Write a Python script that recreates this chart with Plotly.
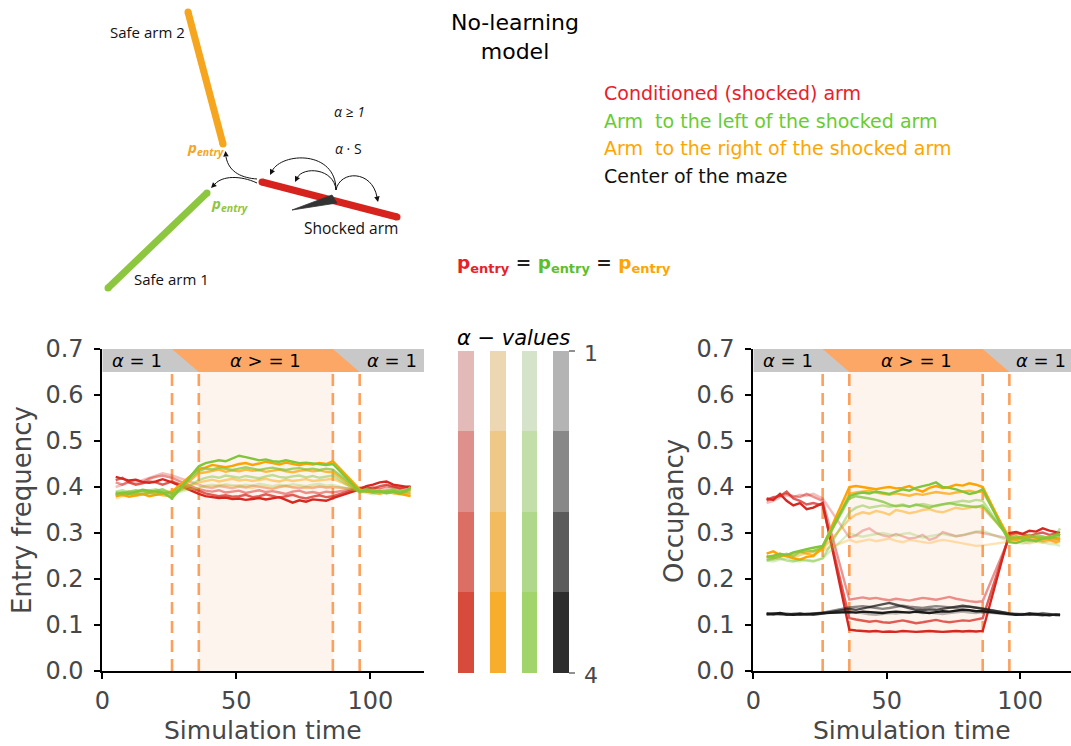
import plotly.graph_objects as go

W, H = 1071, 746

# ---------------------------------------------------------------- data
# simulation time shared by every curve (pre-phase | alpha phase | post-phase)
TIME = [5, 7.5, 10, 12.5, 15, 17.5, 20, 22.5, 26,
        36, 38.5, 41, 43.5, 46, 48.5, 51, 53.5, 56, 58.5,
        61, 63.5, 66, 68.5, 71, 73.5, 76, 78.5, 81, 83.5, 86,
        96, 98.5, 101, 103.5, 106, 108.5, 111, 113.5, 115]

ALPHA_VALUES = [1, 2, 3, 4]

# entry frequency, one list per alpha value (1 -> 4)
entry_red = [
    [0.400, 0.405, 0.410, 0.408, 0.415, 0.420, 0.425, 0.430, 0.425,
     0.405, 0.400, 0.398, 0.402, 0.400, 0.397, 0.401, 0.399, 0.403, 0.400,
     0.398, 0.396, 0.400, 0.402, 0.399, 0.397, 0.400, 0.398, 0.401, 0.399, 0.400,
     0.395, 0.392, 0.398, 0.394, 0.397, 0.400, 0.396, 0.393, 0.395],
    [0.410, 0.405, 0.412, 0.415, 0.410, 0.418, 0.422, 0.425, 0.420,
     0.395, 0.392, 0.390, 0.393, 0.388, 0.390, 0.392, 0.387, 0.390, 0.393,
     0.389, 0.391, 0.388, 0.385, 0.390, 0.392, 0.387, 0.389, 0.386, 0.390, 0.388,
     0.398, 0.395, 0.400, 0.397, 0.402, 0.399, 0.396, 0.400, 0.398],
    [0.415, 0.420, 0.410, 0.405, 0.408, 0.412, 0.410, 0.405, 0.412,
     0.390, 0.386, 0.383, 0.380, 0.382, 0.379, 0.380, 0.383, 0.378, 0.380,
     0.384, 0.381, 0.377, 0.380, 0.383, 0.378, 0.375, 0.379, 0.382, 0.378, 0.380,
     0.398, 0.400, 0.396, 0.402, 0.405, 0.401, 0.398, 0.400, 0.402],
    [0.422, 0.418, 0.414, 0.416, 0.411, 0.409, 0.412, 0.417, 0.410,
     0.385, 0.380, 0.378, 0.376, 0.377, 0.374, 0.375, 0.372, 0.374, 0.376,
     0.373, 0.375, 0.378, 0.372, 0.366, 0.371, 0.368, 0.373, 0.371, 0.370, 0.376,
     0.395, 0.402, 0.405, 0.410, 0.412, 0.405, 0.403, 0.401, 0.399],
]
entry_orange = [
    [0.375, 0.380, 0.385, 0.388, 0.384, 0.389, 0.386, 0.390, 0.392,
     0.398, 0.402, 0.400, 0.405, 0.403, 0.401, 0.404, 0.400, 0.398, 0.402,
     0.400, 0.397, 0.401, 0.403, 0.399, 0.401, 0.398, 0.400, 0.402, 0.399, 0.400,
     0.393, 0.390, 0.387, 0.390, 0.393, 0.389, 0.386, 0.390, 0.388],
    [0.383, 0.386, 0.390, 0.387, 0.384, 0.386, 0.389, 0.385, 0.388,
     0.410, 0.413, 0.416, 0.412, 0.415, 0.418, 0.414, 0.416, 0.413, 0.415,
     0.418, 0.414, 0.412, 0.416, 0.413, 0.415, 0.417, 0.413, 0.414, 0.416, 0.418,
     0.392, 0.390, 0.394, 0.391, 0.388, 0.392, 0.390, 0.393, 0.391],
    [0.385, 0.382, 0.386, 0.381, 0.384, 0.388, 0.385, 0.382, 0.380,
     0.430, 0.432, 0.435, 0.438, 0.433, 0.436, 0.434, 0.438, 0.435, 0.437,
     0.433, 0.436, 0.438, 0.434, 0.432, 0.435, 0.437, 0.434, 0.436, 0.433, 0.432,
     0.390, 0.393, 0.388, 0.385, 0.390, 0.386, 0.384, 0.387, 0.385],
    [0.380, 0.383, 0.379, 0.382, 0.385, 0.380, 0.383, 0.386, 0.390,
     0.440, 0.442, 0.448, 0.445, 0.443, 0.446, 0.450, 0.452, 0.448, 0.451,
     0.455, 0.452, 0.449, 0.453, 0.450, 0.447, 0.451, 0.449, 0.452, 0.450, 0.456,
     0.395, 0.390, 0.388, 0.392, 0.387, 0.390, 0.385, 0.382, 0.380],
]
entry_green = [
    [0.382, 0.385, 0.383, 0.387, 0.384, 0.386, 0.383, 0.387, 0.385,
     0.400, 0.403, 0.405, 0.402, 0.406, 0.404, 0.402, 0.405, 0.403, 0.407,
     0.404, 0.402, 0.405, 0.403, 0.406, 0.404, 0.402, 0.405, 0.407, 0.403, 0.405,
     0.390, 0.387, 0.384, 0.388, 0.385, 0.389, 0.386, 0.388, 0.386],
    [0.390, 0.393, 0.389, 0.386, 0.390, 0.393, 0.395, 0.390, 0.382,
     0.415, 0.420, 0.423, 0.420, 0.425, 0.422, 0.420, 0.424, 0.421, 0.419,
     0.423, 0.426, 0.422, 0.420, 0.423, 0.425, 0.421, 0.424, 0.420, 0.422, 0.425,
     0.388, 0.390, 0.393, 0.389, 0.392, 0.395, 0.391, 0.390, 0.393],
    [0.388, 0.386, 0.390, 0.393, 0.391, 0.388, 0.392, 0.395, 0.385,
     0.435, 0.440, 0.438, 0.442, 0.440, 0.437, 0.440, 0.443, 0.440, 0.437,
     0.440, 0.442, 0.439, 0.437, 0.440, 0.441, 0.438, 0.440, 0.437, 0.440, 0.438,
     0.392, 0.395, 0.393, 0.389, 0.392, 0.394, 0.390, 0.393, 0.396],
    [0.385, 0.388, 0.385, 0.390, 0.394, 0.392, 0.390, 0.388, 0.375,
     0.445, 0.452, 0.455, 0.458, 0.456, 0.462, 0.468, 0.465, 0.462, 0.458,
     0.460, 0.456, 0.455, 0.458, 0.455, 0.452, 0.453, 0.451, 0.449, 0.448, 0.450,
     0.390, 0.393, 0.389, 0.391, 0.387, 0.390, 0.386, 0.392, 0.400],
]

# occupancy, one list per alpha value (1 -> 4)
occ_red = [
    [0.365, 0.370, 0.378, 0.382, 0.378, 0.383, 0.381, 0.385, 0.375,
     0.290, 0.295, 0.305, 0.310, 0.300, 0.295, 0.292, 0.298, 0.293, 0.288,
     0.290, 0.296, 0.285, 0.290, 0.302, 0.297, 0.293, 0.295, 0.298, 0.302, 0.300,
     0.288, 0.285, 0.290, 0.287, 0.284, 0.288, 0.286, 0.283, 0.287],
    [0.370, 0.375, 0.382, 0.385, 0.380, 0.378, 0.385, 0.378, 0.370,
     0.155, 0.158, 0.160, 0.157, 0.159, 0.156, 0.154, 0.157, 0.155, 0.153,
     0.156, 0.159, 0.157, 0.155, 0.158, 0.161, 0.157, 0.154, 0.152, 0.150, 0.152,
     0.290, 0.288, 0.292, 0.295, 0.290, 0.287, 0.291, 0.289, 0.287],
    [0.372, 0.378, 0.380, 0.390, 0.375, 0.370, 0.362, 0.365, 0.360,
     0.115, 0.112, 0.110, 0.107, 0.109, 0.106, 0.105, 0.108, 0.110, 0.107,
     0.104, 0.106, 0.109, 0.111, 0.108, 0.106, 0.108, 0.110, 0.109, 0.112, 0.115,
     0.295, 0.300, 0.297, 0.293, 0.298, 0.301, 0.296, 0.299, 0.295],
    [0.375, 0.372, 0.385, 0.370, 0.360, 0.365, 0.352, 0.355, 0.365,
     0.090, 0.088, 0.087, 0.086, 0.087, 0.085, 0.086, 0.085, 0.087, 0.086,
     0.085, 0.086, 0.087, 0.086, 0.085, 0.086, 0.087, 0.086, 0.087, 0.086, 0.087,
     0.300, 0.302, 0.298, 0.305, 0.303, 0.310, 0.305, 0.302, 0.300],
]
occ_orange = [
    [0.245, 0.248, 0.252, 0.250, 0.255, 0.258, 0.255, 0.260, 0.262,
     0.285, 0.280, 0.283, 0.286, 0.282, 0.285, 0.288, 0.283, 0.280, 0.285,
     0.283, 0.280, 0.278, 0.282, 0.285, 0.283, 0.280, 0.278, 0.275, 0.272, 0.273,
     0.280, 0.283, 0.280, 0.277, 0.281, 0.279, 0.282, 0.278, 0.280],
    [0.248, 0.252, 0.255, 0.250, 0.248, 0.252, 0.258, 0.262, 0.265,
     0.330, 0.340, 0.345, 0.342, 0.348, 0.345, 0.340, 0.350, 0.347, 0.343,
     0.346, 0.350, 0.352, 0.347, 0.345, 0.350, 0.355, 0.352, 0.355, 0.358, 0.355,
     0.292, 0.295, 0.290, 0.287, 0.290, 0.293, 0.289, 0.286, 0.288],
    [0.250, 0.245, 0.248, 0.252, 0.256, 0.260, 0.255, 0.252, 0.265,
     0.385, 0.388, 0.390, 0.392, 0.388, 0.385, 0.383, 0.386, 0.384, 0.381,
     0.385, 0.383, 0.386, 0.389, 0.387, 0.385, 0.388, 0.390, 0.392, 0.389, 0.390,
     0.290, 0.285, 0.288, 0.283, 0.286, 0.282, 0.285, 0.280, 0.283],
    [0.255, 0.260, 0.252, 0.250, 0.245, 0.242, 0.248, 0.250, 0.270,
     0.400, 0.402, 0.400, 0.398, 0.395, 0.398, 0.400, 0.397, 0.398, 0.402,
     0.395, 0.390, 0.398, 0.402, 0.398, 0.400, 0.405, 0.403, 0.408, 0.405, 0.400,
     0.285, 0.288, 0.290, 0.293, 0.290, 0.287, 0.290, 0.288, 0.286],
]
occ_green = [
    [0.240, 0.238, 0.242, 0.245, 0.240, 0.238, 0.242, 0.240, 0.245,
     0.300, 0.295, 0.292, 0.295, 0.298, 0.300, 0.297, 0.294, 0.298, 0.300,
     0.295, 0.290, 0.293, 0.296, 0.298, 0.295, 0.293, 0.296, 0.300, 0.303, 0.305,
     0.282, 0.280, 0.277, 0.280, 0.283, 0.280, 0.276, 0.275, 0.272],
    [0.240, 0.242, 0.245, 0.240, 0.238, 0.242, 0.240, 0.238, 0.245,
     0.345, 0.355, 0.360, 0.355, 0.358, 0.360, 0.357, 0.360, 0.362, 0.358,
     0.360, 0.363, 0.360, 0.358, 0.362, 0.365, 0.368, 0.370, 0.368, 0.372, 0.370,
     0.285, 0.290, 0.293, 0.296, 0.290, 0.288, 0.293, 0.296, 0.310],
    [0.242, 0.245, 0.250, 0.255, 0.250, 0.258, 0.262, 0.260, 0.270,
     0.375, 0.380, 0.378, 0.375, 0.372, 0.368, 0.362, 0.358, 0.360, 0.357,
     0.362, 0.359, 0.355, 0.360, 0.362, 0.365, 0.362, 0.360, 0.358, 0.356, 0.360,
     0.290, 0.293, 0.287, 0.290, 0.295, 0.292, 0.288, 0.291, 0.293],
    [0.248, 0.250, 0.255, 0.252, 0.258, 0.262, 0.265, 0.268, 0.272,
     0.380, 0.385, 0.388, 0.386, 0.390, 0.388, 0.385, 0.390, 0.395, 0.392,
     0.398, 0.402, 0.405, 0.410, 0.400, 0.398, 0.395, 0.390, 0.385, 0.388, 0.395,
     0.280, 0.278, 0.283, 0.285, 0.282, 0.288, 0.290, 0.295, 0.298],
]
occ_center = [
    [0.122, 0.124, 0.123, 0.125, 0.124, 0.123, 0.125, 0.124, 0.125,
     0.130, 0.128, 0.125, 0.123, 0.122, 0.124, 0.126, 0.125, 0.127, 0.129,
     0.128, 0.126, 0.127, 0.125, 0.124, 0.126, 0.128, 0.129, 0.127, 0.126, 0.128,
     0.123, 0.125, 0.124, 0.122, 0.124, 0.126, 0.123, 0.121, 0.123],
    [0.124, 0.123, 0.125, 0.124, 0.123, 0.122, 0.124, 0.125, 0.127,
     0.138, 0.140, 0.141, 0.139, 0.137, 0.135, 0.137, 0.139, 0.142, 0.140,
     0.138, 0.137, 0.139, 0.141, 0.140, 0.138, 0.137, 0.139, 0.140, 0.138, 0.136,
     0.125, 0.123, 0.124, 0.122, 0.123, 0.125, 0.124, 0.122, 0.123],
    [0.123, 0.125, 0.124, 0.122, 0.124, 0.125, 0.123, 0.122, 0.125,
     0.135, 0.133, 0.136, 0.138, 0.142, 0.145, 0.148, 0.144, 0.140, 0.136,
     0.133, 0.132, 0.134, 0.133, 0.135, 0.137, 0.139, 0.142, 0.140, 0.138, 0.135,
     0.125, 0.123, 0.122, 0.124, 0.123, 0.121, 0.123, 0.122, 0.121],
    [0.125, 0.124, 0.126, 0.123, 0.122, 0.124, 0.123, 0.124, 0.126,
     0.128, 0.127, 0.129, 0.128, 0.127, 0.126, 0.128, 0.129, 0.128, 0.127,
     0.129, 0.128, 0.126, 0.128, 0.130, 0.129, 0.131, 0.133, 0.132, 0.130, 0.130,
     0.124, 0.122, 0.123, 0.125, 0.124, 0.122, 0.121, 0.123, 0.122],
]

# axes and phase annotation
X_TICKS = [0, 50, 100]
Y_TICKS = [0.0, 0.1, 0.2, 0.3, 0.4, 0.5, 0.6, 0.7]
Y_TICK_TEXT = ["0.0", "0.1", "0.2", "0.3", "0.4", "0.5", "0.6", "0.7"]
PHASE_EDGES = [26, 36, 86, 96]
PHASE_LABELS = ["<i>α</i> = 1", "<i>α</i> > = 1", "<i>α</i> = 1"]
PHASE_LABEL_X = [13, 61, 108]

LEGEND_TEXT = ["Conditioned (shocked) arm", "Arm  to the left of the shocked arm",
               "Arm  to the right of the shocked arm", "Center of the maze"]

# ---------------------------------------------------------------- style
RGB_RED, RGB_ORANGE, RGB_GREEN, RGB_BLACK = "214,40,32", "255,163,0", "128,198,58", "25,25,25"
LINE_OPACITY = [0.3, 0.5, 0.75, 1.0]
CBAR_COLORS = [
    ["#E2BBB9", "#DE918C", "#DB6F66", "#D74B3C"],
    ["#EDD6B2", "#EEC887", "#F2BB5F", "#F8AD2C"],
    ["#D5E3CA", "#C3DEA8", "#B0D88A", "#A1D46A"],
    ["#B4B4B4", "#888888", "#5B5B5B", "#2D2D2D"],
]
TICK_GRAY = "#474747"
DASH_ORANGE = "#FCA05C"
BAND_GRAY = "#C8C8C8"
BAND_ORANGE = "#FCA765"
PEACH = "#FEF4EE"
FONT = "DejaVu Sans"

fig = go.Figure()


def add_family(series, rgb, xa, ya):
    for vals, op in zip(series, LINE_OPACITY):
        fig.add_trace(go.Scatter(
            x=TIME, y=vals, mode="lines", xaxis=xa, yaxis=ya,
            line=dict(color=f"rgba({rgb},{op})", width=2.4),
            showlegend=False, hoverinfo="skip"))


add_family(entry_red, RGB_RED, "x", "y")
add_family(entry_orange, RGB_ORANGE, "x", "y")
add_family(entry_green, RGB_GREEN, "x", "y")

add_family(occ_red, RGB_RED, "x2", "y2")
add_family(occ_orange, RGB_ORANGE, "x2", "y2")
add_family(occ_green, RGB_GREEN, "x2", "y2")
add_family(occ_center, RGB_BLACK, "x2", "y2")

shapes = []
annotations = []


def label(x, y, text, size, color="#111111", family=FONT, **kw):
    """Text placed in page pixels through the full-page overlay axes."""
    d = dict(xref="x3", yref="y3", x=x, y=y, text=text, showarrow=False,
             font=dict(family=family, size=size, color=color),
             xanchor="center", yanchor="middle")
    d.update(kw)
    annotations.append(d)


# phase shading, header band and boundaries for each panel
for xr, yr in (("x", "y"), ("x2", "y2")):
    shapes.append(dict(type="rect", xref=xr, yref=yr, x0=PHASE_EDGES[1], x1=PHASE_EDGES[2],
                       y0=0, y1=0.65, fillcolor=PEACH, line=dict(width=0), layer="below"))
    shapes.append(dict(type="rect", xref=xr, yref=yr, x0=0, x1=120, y0=0.65, y1=0.7,
                       fillcolor=BAND_GRAY, line=dict(width=0), layer="below"))
    a, b, c, d = PHASE_EDGES
    shapes.append(dict(type="path", xref=xr, yref=yr,
                       path=f"M {a},0.7 L {c},0.7 L {d},0.65 L {b},0.65 Z",
                       fillcolor=BAND_ORANGE, line=dict(width=0), layer="below"))
    for e in PHASE_EDGES:
        shapes.append(dict(type="line", xref=xr, yref=yr, x0=e, x1=e, y0=0, y1=0.65,
                           line=dict(color=DASH_ORANGE, width=2.6, dash="12px,7px"), layer="below"))
    for lab, lx in zip(PHASE_LABELS, PHASE_LABEL_X):
        annotations.append(dict(xref=xr, yref=yr, x=lx, y=0.675, text=lab, showarrow=False,
                                font=dict(family=FONT, size=18, color="black"),
                                xanchor="center", yanchor="middle"))

# axis titles
label(22, 510, "Entry frequency", 26, TICK_GRAY, textangle=-90)
label(674, 511, "Occupancy", 26, TICK_GRAY, textangle=-90)
label(263, 730, "Simulation time", 25, TICK_GRAY, borderpad=0)
label(912, 730, "Simulation time", 25, TICK_GRAY, borderpad=0)

# alpha-value colour strips
strip_x = [(458, 474), (490, 506), (522, 537), (553, 569)]
seg_y = [351, 431, 512, 592, 673]
for (x0, x1), cols in zip(strip_x, CBAR_COLORS):
    for k, col in enumerate(cols):
        shapes.append(dict(type="rect", xref="x3", yref="y3", x0=x0, x1=x1,
                           y0=seg_y[k], y1=seg_y[k + 1],
                           fillcolor=col, line=dict(width=0), layer="above"))
for ty, lab in ((seg_y[0], str(ALPHA_VALUES[0])), (seg_y[-1], str(ALPHA_VALUES[-1]))):
    shapes.append(dict(type="line", xref="x3", yref="y3", x0=569, x1=575, y0=ty, y1=ty,
                       line=dict(color=TICK_GRAY, width=1.2)))
    label(582, ty + 2, lab, 22, TICK_GRAY, xanchor="left")
label(513, 338, "<i>α − values</i>", 21, "black")

# title and colour key
label(515, 37, "No-learning<br>model", 22, "black")
for txt, col, yy in zip(LEGEND_TEXT, ["#E8202A", "#66CC33", "#FFA500", "#111111"], [93, 121, 148, 176]):
    label(602, yy, txt, 19, col, xanchor="left")
label(455, 264,
      ("<b><span style='color:#E8202A'>p<sub>entry</sub></span> = "
       "<span style='color:#5DBE2A'>p<sub>entry</sub></span> = "
       "<span style='color:#FFA500'>p<sub>entry</sub></span></b>"),
      18.5, "#222222", xanchor="left")

# ---------------------------------------------------------------- maze sketch (pixel overlay axis)
ARM_COLORS = {"safe2": "#F5A51E", "safe1": "#8DC63F", "shock": "#D7231E"}
arms = {"safe2": ((188, 12), (223, 144)), "safe1": ((207, 193), (108, 288)),
        "shock": ((262, 182), (397, 217))}
for name, (p0, p1) in arms.items():
    fig.add_trace(go.Scatter(x=[p0[0], p1[0]], y=[p0[1], p1[1]], mode="lines+markers",
                             xaxis="x3", yaxis="y3", line=dict(color=ARM_COLORS[name], width=7),
                             marker=dict(size=7, color=ARM_COLORS[name]),
                             showlegend=False, hoverinfo="skip"))

curve = dict(color="#111111", width=1)
for path in ["M 257,179 C 243,178 229,173 226,157",
             "M 257,183 C 240,175 222,176 215,184",
             "M 336,190 C 336,150 282,152 272,171",
             "M 336,190 C 334,168 303,166 297,178",
             "M 336,190 C 340,170 372,170 377,197"]:
    shapes.append(dict(type="path", xref="x3", yref="y3", path=path, line=curve))
shapes.append(dict(type="path", xref="x3", yref="y3", path="M 292,210 L 332,195 L 337,203 Z",
                   fillcolor="#333333", line=dict(color="#333333", width=0.8)))

for hx, hy, tx, ty in [(225.5, 151, 226, 157), (211, 188, 215, 184), (270, 175, 272, 171),
                       (295, 182, 297, 178), (378, 202, 377, 197)]:
    annotations.append(dict(xref="x3", yref="y3", axref="x3", ayref="y3", x=hx, y=hy,
                            ax=tx, ay=ty, text="", showarrow=True, arrowhead=2,
                            arrowsize=1.1, arrowwidth=1, arrowcolor="#111111", standoff=0))

SKETCH_FONT = "Open Sans"
label(147, 32, "Safe arm 2", 15, family=SKETCH_FONT)
label(171, 279, "Safe arm 1", 15, family=SKETCH_FONT)
label(351, 228, "Shocked arm", 15.5, family=SKETCH_FONT)
label(349, 111, "<i>α ≥ 1</i>", 14, family=SKETCH_FONT)
label(348, 148, "<i>α</i> · S", 14, family=SKETCH_FONT)
for x, y, col in [(205, 148, ARM_COLORS["safe2"]), (229, 204, ARM_COLORS["safe1"])]:
    label(x, y, "<b><i>p</i></b><sub><b><i>entry</i></b></sub>", 15, col, family=SKETCH_FONT)

# ---------------------------------------------------------------- layout
axis_common = dict(showline=True, linecolor="black", linewidth=1.8, ticks="outside",
                   ticklen=6, tickwidth=1.6, tickcolor="black", showgrid=False, zeroline=False,
                   tickfont=dict(family=FONT, size=24, color=TICK_GRAY), fixedrange=True,
                   automargin=False)
y_dom = [1 - 671 / H, 1 - 349 / H]

fig.update_layout(
    width=W, height=H, margin=dict(l=0, r=0, t=0, b=0, pad=0, autoexpand=False),
    paper_bgcolor="white", plot_bgcolor="rgba(0,0,0,0)", showlegend=False,
    xaxis=dict(domain=[102.3 / W, 424 / W], range=[0, 120], tickvals=X_TICKS,
               anchor="y", ticklabelstandoff=1, **axis_common),
    yaxis=dict(domain=y_dom, range=[0, 0.7], tickvals=Y_TICKS, ticktext=Y_TICK_TEXT,
               anchor="x", ticklabelstandoff=6, **axis_common),
    xaxis2=dict(domain=[753.3 / W, 1.0], range=[0, 119.1], tickvals=X_TICKS,
                anchor="y2", ticklabelstandoff=1, **axis_common),
    yaxis2=dict(domain=y_dom, range=[0, 0.7], tickvals=Y_TICKS, ticktext=Y_TICK_TEXT,
                anchor="x2", ticklabelstandoff=6, **axis_common),
    xaxis3=dict(domain=[0, 1], range=[0, W], visible=False, anchor="y3", fixedrange=True),
    yaxis3=dict(domain=[0, 1], range=[H, 0], visible=False, anchor="x3", fixedrange=True),
    shapes=shapes, annotations=annotations,
)

fig.write_html("out.html")
